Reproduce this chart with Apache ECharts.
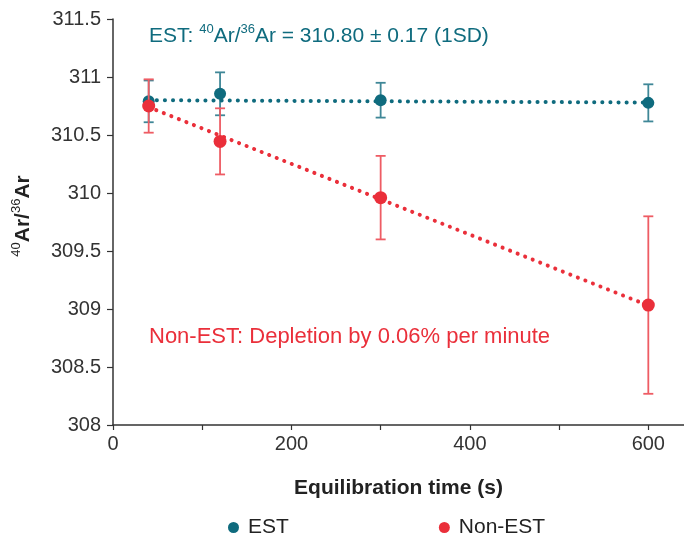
<!DOCTYPE html>
<html>
<head>
<meta charset="utf-8">
<script src="https://cdn.jsdelivr.net/npm/echarts@6/dist/echarts.min.js"></script>
<style>html,body{margin:0;padding:0;background:#fff}#c{width:684px;height:535px}</style>
</head>
<body>
<div id="c"></div>
<script>
// ---- data ----
var times = [40, 120, 300, 600];
var estValues = [310.79, 310.855, 310.80, 310.777];
var estErrors = [0.18, 0.185, 0.15, 0.16];
var nonValues = [310.75, 310.445, 309.96, 309.034];
var nonErrors = [0.23, 0.285, 0.36, 0.765];
var estTrend = [[40, 310.80], [600, 310.78]];
var nonTrend = [[40, 310.74], [600, 309.03]];
var yTicks = [308, 308.5, 309, 309.5, 310, 310.5, 311, 311.5];
var xLabelTicks = [0, 200, 400, 600];

var TEAL = '#0f6b7e', TEAL_ERR = '#3f8797';
var RED = '#ea2f3a', RED_ERR = '#ee5c64';
var FONT = 'Liberation Sans, Arial, sans-serif';
var FS = 21;

function pts(vals) { return times.map(function (t, i) { return [t, vals[i]]; }); }
function errs(vals, e) { return times.map(function (t, i) { return [t, vals[i] - e[i], vals[i] + e[i]]; }); }

function errRender(color) {
  return function (params, api) {
    var x = api.value(0);
    var lo = api.coord([x, api.value(1)]);
    var hi = api.coord([x, api.value(2)]);
    var hw = 5;
    var st = { stroke: color, lineWidth: 1.8 };
    return {
      type: 'group',
      children: [
        { type: 'line', shape: { x1: lo[0], y1: lo[1], x2: hi[0], y2: hi[1] }, style: st },
        { type: 'line', shape: { x1: lo[0] - hw, y1: lo[1], x2: lo[0] + hw, y2: lo[1] }, style: st },
        { type: 'line', shape: { x1: hi[0] - hw, y1: hi[1], x2: hi[0] + hw, y2: hi[1] }, style: st }
      ]
    };
  };
}

var chart = echarts.init(document.getElementById('c'), null, { renderer: 'canvas' });
chart.setOption({
  animation: false,
  textStyle: { fontFamily: FONT },
  grid: { left: 113, right: 0, top: 19, bottom: 110, containLabel: false },
  xAxis: {
    type: 'value', min: 0, max: 640, interval: 100,
    name: 'Equilibration time (s)', nameLocation: 'middle', nameGap: 53,
    nameTextStyle: { fontFamily: FONT, fontSize: FS, fontWeight: 'bold', color: '#222' },
    axisLine: { show: true, lineStyle: { color: '#333', width: 1.5 } },
    axisTick: { show: true, length: 5, lineStyle: { color: '#333', width: 1.2 } },
    axisLabel: {
      margin: 9, fontFamily: FONT, fontSize: 20, color: '#333', showMaxLabel: false,
      formatter: function (v) { return xLabelTicks.indexOf(v) >= 0 ? String(v) : ''; }
    },
    splitLine: { show: false }
  },
  yAxis: {
    type: 'value', min: yTicks[0], max: yTicks[yTicks.length - 1], interval: 0.5,
    axisLine: { show: true, lineStyle: { color: '#333', width: 1.5 } },
    axisTick: { show: true, length: 6, lineStyle: { color: '#333', width: 1.2 } },
    axisLabel: {
      margin: 12, fontFamily: FONT, fontSize: 20, color: '#333',
      formatter: function (v) { return String(Math.round(v * 10) / 10); }
    },
    splitLine: { show: false }
  },
  legend: {
    data: ['EST', 'Non-EST'],
    left: 223, top: 512, itemGap: 150,
    icon: 'circle', itemWidth: 11, itemHeight: 11,
    textStyle: { fontFamily: FONT, fontSize: FS, color: '#222', padding: [0, 0, 0, 4] }
  },
  graphic: [
    {
      type: 'text', left: 149, top: 21,
      style: {
        text: '{n|EST: }{s|40}{n|Ar/}{s|36}{n|Ar = 310.80 ± 0.17 (1SD)}',
        rich: {
          n: { fontFamily: FONT, fontSize: FS, fill: TEAL, lineHeight: 26, verticalAlign: 'bottom' },
          s: { fontFamily: FONT, fontSize: 13, fill: TEAL, lineHeight: 26, verticalAlign: 'top', padding: [2, 0, 0, 0] }
        }
      }
    },
    {
      type: 'text', x: 149, y: 337,
      style: { text: 'Non-EST: Depletion by 0.06% per minute', fontFamily: FONT, fontSize: 22, fill: RED, verticalAlign: 'middle' }
    },
    {
      type: 'text', x: 21, y: 216, rotation: Math.PI / 2,
      style: {
        text: '{s|40}{b|Ar/}{s|36}{b|Ar}',
        align: 'center', verticalAlign: 'middle',
        rich: {
          b: { fontFamily: FONT, fontSize: FS, fontWeight: 'bold', fill: '#222', lineHeight: 26, verticalAlign: 'bottom' },
          s: { fontFamily: FONT, fontSize: 13, fill: '#222', lineHeight: 26, verticalAlign: 'top', padding: [2, 0, 0, 0] }
        }
      }
    }
  ],
  series: [
    {
      name: 'estErr', type: 'custom', renderItem: errRender(TEAL_ERR), data: errs(estValues, estErrors),
      encode: { x: 0, y: [1, 2] }, z: 2, silent: true
    },
    {
      name: 'estTrend', type: 'line', data: estTrend, symbol: 'none', z: 3, silent: true,
      lineStyle: { color: TEAL, width: 4, type: [0.1, 8], cap: 'round' }
    },
    {
      name: 'EST', type: 'scatter', data: pts(estValues), symbol: 'circle', symbolSize: 12,
      itemStyle: { color: TEAL, opacity: 1 }, z: 4
    },
    {
      name: 'nonErr', type: 'custom', renderItem: errRender(RED_ERR), data: errs(nonValues, nonErrors),
      encode: { x: 0, y: [1, 2] }, z: 5, silent: true
    },
    {
      name: 'nonTrend', type: 'line', data: nonTrend, symbol: 'none', z: 6, silent: true,
      lineStyle: { color: RED, width: 4, type: [0.1, 8], cap: 'round' }
    },
    {
      name: 'Non-EST', type: 'scatter', data: pts(nonValues), symbol: 'circle', symbolSize: 13,
      itemStyle: { color: RED, opacity: 1 }, z: 7
    }
  ]
});
</script>
</body>
</html>
